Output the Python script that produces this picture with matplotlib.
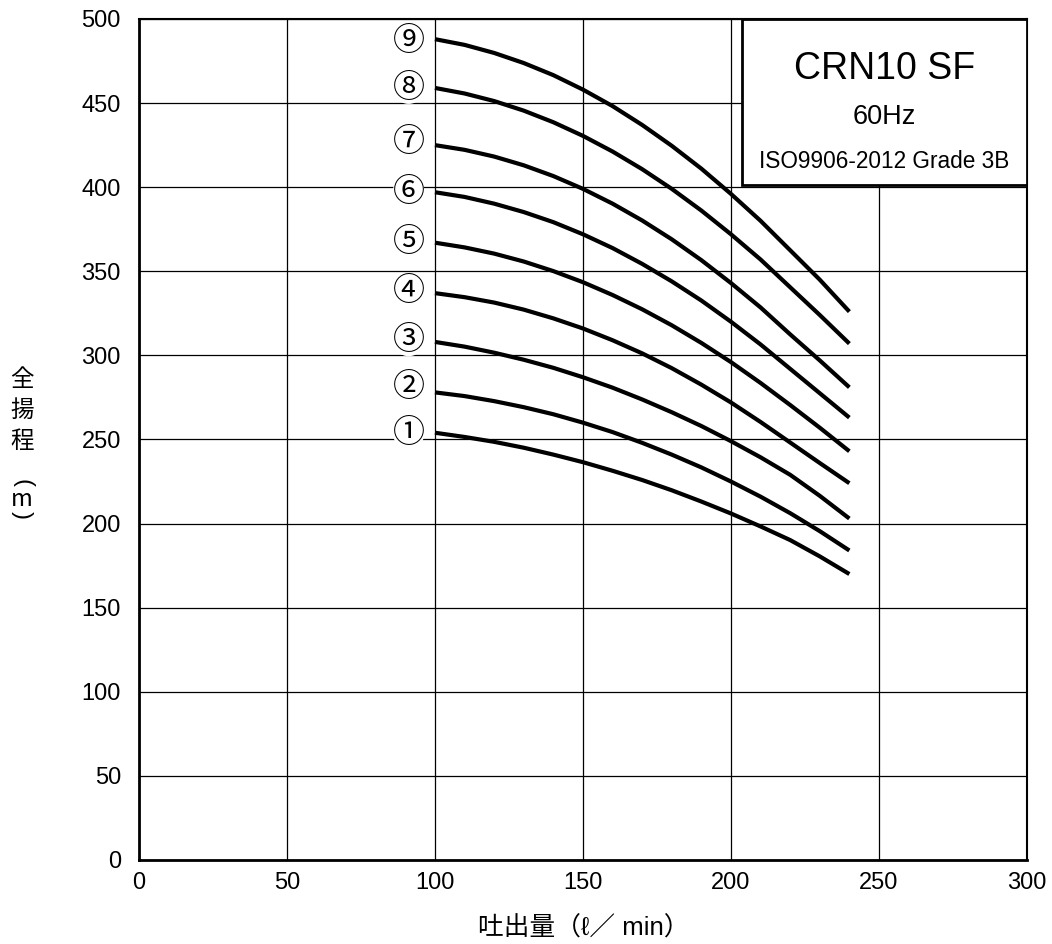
import matplotlib.pyplot as plt

# flow (l/min) and head (m), curves 1..9
flow = [100, 110, 120, 130, 140, 150, 160, 170, 180, 190, 200, 210, 220, 230, 240]
head_1 = [254, 251.5, 248.6, 245.1, 241, 236.5, 231.4, 225.9, 219.8, 213.1, 206, 198.3, 190.2, 180.5, 170]
head_2 = [278, 275.8, 272.8, 269.2, 265, 260, 254.4, 248, 241, 233.4, 225, 216, 206.2, 195.5, 184]
head_3 = [308, 305.2, 301.6, 297.4, 292.6, 287, 280.8, 273.8, 266.2, 258, 249, 239.4, 229, 216.5, 203]
head_4 = [337, 334.6, 331.4, 327.2, 322, 316, 309, 301.2, 292.4, 282.6, 272, 260.4, 248.2, 236, 224]
head_5 = [367, 364.2, 360.5, 355.8, 350.1, 343.5, 335.9, 327.4, 317.9, 307.4, 296, 283.6, 270.5, 257, 243]
head_6 = [397, 394.2, 390.2, 385.2, 379.2, 372, 363.8, 354.4, 344, 332.6, 320, 306.5, 292, 277.5, 263]
head_7 = [425, 422.2, 418.2, 413, 406.6, 399, 390.2, 380.2, 369, 356.6, 343, 328.5, 312.5, 297, 281]
head_8 = [459, 455.7, 451.2, 445.5, 438.6, 430.5, 421.2, 410.7, 399, 386.1, 372, 357, 340.5, 324, 307]
head_9 = [488, 484.6, 479.8, 473.8, 466.6, 458, 448.2, 437, 424.6, 411, 396, 380, 362.5, 345, 326]
curves = [head_1, head_2, head_3, head_4, head_5, head_6, head_7, head_8, head_9]
curve_labels = ['①', '②', '③', '④', '⑤', '⑥', '⑦', '⑧', '⑨']
label_y = [254, 281, 309, 338, 367.5, 397, 427, 459, 487]

latin = ['Liberation Sans', 'Noto Sans CJK JP', 'DejaVu Sans']
cjk = ['Noto Sans CJK JP', 'DejaVu Sans']
plt.rcParams['font.family'] = latin

fig = plt.figure(figsize=(10.52, 9.44), dpi=100)
ax = fig.add_axes([0.1321, 0.0890, 0.8441, 0.8909])

for h in curves:
    ax.plot(flow, h, color='black', linewidth=3, solid_capstyle='butt', zorder=3)

for lab, y in zip(curve_labels, label_y):
    ax.text(91.1, y, lab, fontsize=23, family=cjk, ha='center', va='center', zorder=4,
            bbox=dict(boxstyle='circle,pad=0.0', fc='white', ec='none'))

ax.set_xlim(0, 300)
ax.set_ylim(0, 500)
ax.set_xticks(range(0, 301, 50))
ax.set_yticks(range(0, 501, 50))
ax.tick_params(length=0, labelsize=17)
ax.tick_params(axis='y', pad=13)
ax.tick_params(axis='x', pad=9)
ax.grid(True, color='black', linewidth=0.9)
ax.set_axisbelow(True)
for s in ['left', 'bottom']:
    ax.spines[s].set_linewidth(2)
for s in ['top', 'right']:
    ax.spines[s].set_linewidth(1.5)

# title box
ax.add_patch(plt.Rectangle((203.6, 401), 96.4, 99, fc='white', ec='black', lw=2, zorder=5))
ax.text(251.8, 470, 'CRN10 SF', fontsize=27, ha='center', va='center', zorder=6)
ax.text(251.8, 442, '60Hz', fontsize=19.5, ha='center', va='center', zorder=6)
ax.text(251.8, 415.5, 'ISO9906-2012 Grade 3B', fontsize=16.3, ha='center', va='center', zorder=6)

fig.text(0.5545, 0.017, '吐出量（ℓ／ min）', fontsize=18.5, ha='center', va='center', family=latin)

# vertical y label, one character per line (parentheses turned for vertical writing)
ylab_chars = ['全', '揚', '程', '(', 'm', ')']
ylab_pix = [379, 410, 442, 483, 499, 515]
ylab_rot = [0, 0, 0, -90, 0, -90]
for ch, yp, rot in zip(ylab_chars, ylab_pix, ylab_rot):
    fig.text(0.021, 1 - yp / 944, ch, fontsize=17, ha='center', va='center',
             family=cjk if rot == 0 else latin, rotation=rot)

fig.savefig('out.png', dpi=100)
